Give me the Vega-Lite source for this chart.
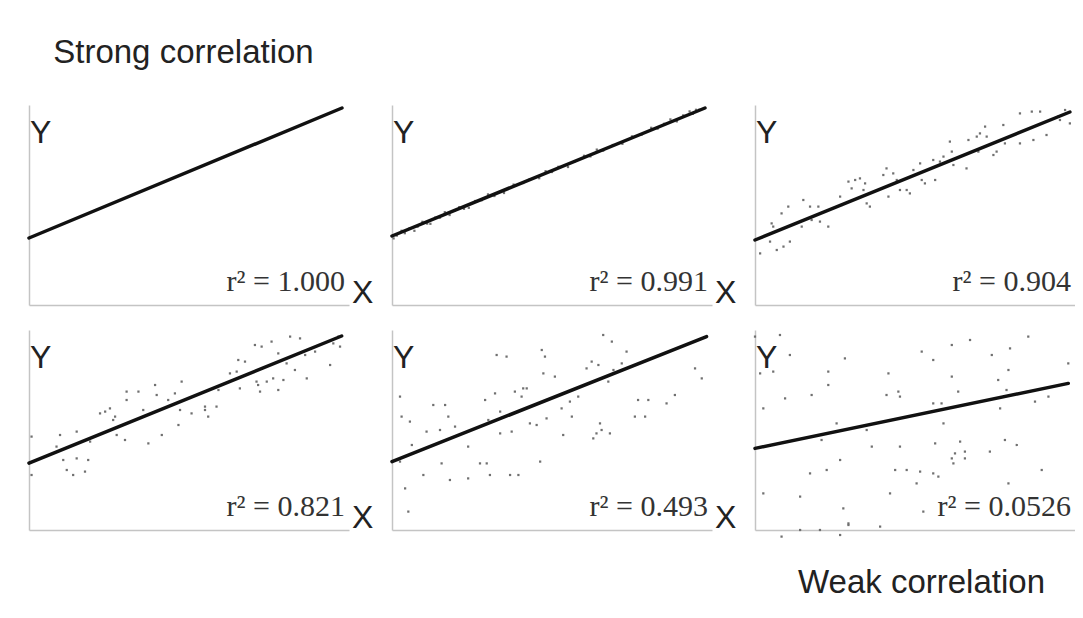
{
  "$schema": "https://vega.github.io/schema/vega-lite/v6.json",
  "padding": {"left": 27, "top": 37, "right": 0, "bottom": 0},
  "background": "white",
  "title": {"text": "Strong correlation", "anchor": "start", "font": "Liberation Sans", "fontSize": 33, "fontWeight": "normal", "color": "#222222", "dx": 26, "offset": 35},
  "config": {
    "view": {"stroke": null},
    "axis": {"domain": true, "domainColor": "#c4c4c4", "domainWidth": 1.5, "ticks": false, "labels": false, "grid": false, "title": null},
    "header": {"labels": false, "title": null, "labelPadding": 0, "titlePadding": 0},
    "headerFacet": {"labels": false, "title": null, "labelPadding": 0, "titlePadding": 0, "labelExpr": "''", "labelFontSize": 0}
  },
  "vconcat": [
    {
      "title": {"text": "Weak correlation", "orient": "bottom", "anchor": "end", "font": "Liberation Sans", "fontSize": 33, "fontWeight": "normal", "color": "#222222", "dx": -30, "offset": 29},
      "data": {"values": [
        {"panel": 1, "kind": "fit", "x": 0, "y": 33.5, "x2": 97.8, "y2": 98.5},
        {"panel": 2, "kind": "fit", "x": 0, "y": 34.5, "x2": 97.8, "y2": 98.5},
        {"panel": 3, "kind": "fit", "x": 0, "y": 32.5, "x2": 98.4, "y2": 96.5},
        {"panel": 4, "kind": "fit", "x": 0, "y": 33.4, "x2": 97.7, "y2": 97},
        {"panel": 5, "kind": "fit", "x": 0, "y": 34.2, "x2": 98.3, "y2": 96.7},
        {"panel": 6, "kind": "fit", "x": 0, "y": 40.8, "x2": 97.9, "y2": 73.3},
        {"panel": 1, "kind": "label", "r2": "r² = 1.000", "hasX": 1},
        {"panel": 2, "kind": "label", "r2": "r² = 0.991", "hasX": 1},
        {"panel": 3, "kind": "label", "r2": "r² = 0.904", "hasX": 0},
        {"panel": 4, "kind": "label", "r2": "r² = 0.821", "hasX": 1},
        {"panel": 5, "kind": "label", "r2": "r² = 0.493", "hasX": 1},
        {"panel": 6, "kind": "label", "r2": "r² = 0.0526", "hasX": 0},
        {"panel": 2, "kind": "pt", "x": 0.5, "y": 33.3},
        {"panel": 2, "kind": "pt", "x": 1.5, "y": 34.7},
        {"panel": 2, "kind": "pt", "x": 3, "y": 37.1},
        {"panel": 2, "kind": "pt", "x": 4, "y": 35.9},
        {"panel": 2, "kind": "pt", "x": 5.5, "y": 38.4},
        {"panel": 2, "kind": "pt", "x": 7, "y": 37.1},
        {"panel": 2, "kind": "pt", "x": 8, "y": 39.2},
        {"panel": 2, "kind": "pt", "x": 9.5, "y": 41.6},
        {"panel": 2, "kind": "pt", "x": 11, "y": 40.7},
        {"panel": 2, "kind": "pt", "x": 12, "y": 40.6},
        {"panel": 2, "kind": "pt", "x": 13.5, "y": 43.7},
        {"panel": 2, "kind": "pt", "x": 15, "y": 43.7},
        {"panel": 2, "kind": "pt", "x": 16.5, "y": 46.4},
        {"panel": 2, "kind": "pt", "x": 18, "y": 45.0},
        {"panel": 2, "kind": "pt", "x": 19.5, "y": 47.1},
        {"panel": 2, "kind": "pt", "x": 21, "y": 48.9},
        {"panel": 2, "kind": "pt", "x": 22.5, "y": 48.1},
        {"panel": 2, "kind": "pt", "x": 24, "y": 48.6},
        {"panel": 2, "kind": "pt", "x": 26, "y": 52.0},
        {"panel": 2, "kind": "pt", "x": 28, "y": 52.4},
        {"panel": 2, "kind": "pt", "x": 30, "y": 55.3},
        {"panel": 2, "kind": "pt", "x": 32, "y": 54.5},
        {"panel": 2, "kind": "pt", "x": 35, "y": 56.0},
        {"panel": 2, "kind": "pt", "x": 38, "y": 60.2},
        {"panel": 2, "kind": "pt", "x": 41, "y": 61.0},
        {"panel": 2, "kind": "pt", "x": 43, "y": 62.8},
        {"panel": 2, "kind": "pt", "x": 46, "y": 63.4},
        {"panel": 2, "kind": "pt", "x": 48, "y": 66.9},
        {"panel": 2, "kind": "pt", "x": 50, "y": 66.5},
        {"panel": 2, "kind": "pt", "x": 52, "y": 69.1},
        {"panel": 2, "kind": "pt", "x": 55, "y": 69.0},
        {"panel": 2, "kind": "pt", "x": 57, "y": 71.6},
        {"panel": 2, "kind": "pt", "x": 60, "y": 74.6},
        {"panel": 2, "kind": "pt", "x": 62, "y": 74.3},
        {"panel": 2, "kind": "pt", "x": 64, "y": 77.7},
        {"panel": 2, "kind": "pt", "x": 66, "y": 77.2},
        {"panel": 2, "kind": "pt", "x": 69, "y": 80.0},
        {"panel": 2, "kind": "pt", "x": 72, "y": 80.6},
        {"panel": 2, "kind": "pt", "x": 75, "y": 84.3},
        {"panel": 2, "kind": "pt", "x": 78, "y": 85.2},
        {"panel": 2, "kind": "pt", "x": 81, "y": 88.6},
        {"panel": 2, "kind": "pt", "x": 83, "y": 88.2},
        {"panel": 2, "kind": "pt", "x": 85, "y": 90.6},
        {"panel": 2, "kind": "pt", "x": 87, "y": 92.8},
        {"panel": 2, "kind": "pt", "x": 89, "y": 91.8},
        {"panel": 2, "kind": "pt", "x": 91, "y": 94.8},
        {"panel": 2, "kind": "pt", "x": 93, "y": 96.8},
        {"panel": 2, "kind": "pt", "x": 94, "y": 95.6},
        {"panel": 2, "kind": "pt", "x": 95, "y": 97.6},
        {"panel": 2, "kind": "pt", "x": 96, "y": 97.6},
        {"panel": 3, "kind": "pt", "x": 1.6, "y": 25.8},
        {"panel": 3, "kind": "pt", "x": 4.7, "y": 31.7},
        {"panel": 3, "kind": "pt", "x": 6.8, "y": 27.5},
        {"panel": 3, "kind": "pt", "x": 8.9, "y": 29.2},
        {"panel": 3, "kind": "pt", "x": 10.9, "y": 31.7},
        {"panel": 3, "kind": "pt", "x": 5.2, "y": 40.8},
        {"panel": 3, "kind": "pt", "x": 5.7, "y": 39.2},
        {"panel": 3, "kind": "pt", "x": 8.3, "y": 45.8},
        {"panel": 3, "kind": "pt", "x": 10.4, "y": 49.2},
        {"panel": 3, "kind": "pt", "x": 15.1, "y": 52.5},
        {"panel": 3, "kind": "pt", "x": 14.6, "y": 39.2},
        {"panel": 3, "kind": "pt", "x": 17.2, "y": 49.2},
        {"panel": 3, "kind": "pt", "x": 17.7, "y": 42.5},
        {"panel": 3, "kind": "pt", "x": 20.3, "y": 41.7},
        {"panel": 3, "kind": "pt", "x": 19.8, "y": 49.2},
        {"panel": 3, "kind": "pt", "x": 22.9, "y": 39.2},
        {"panel": 3, "kind": "pt", "x": 26.6, "y": 54.2},
        {"panel": 3, "kind": "pt", "x": 27.1, "y": 50},
        {"panel": 3, "kind": "pt", "x": 29.2, "y": 61.7},
        {"panel": 3, "kind": "pt", "x": 30.2, "y": 58.3},
        {"panel": 3, "kind": "pt", "x": 31.3, "y": 62.5},
        {"panel": 3, "kind": "pt", "x": 32.8, "y": 63.3},
        {"panel": 3, "kind": "pt", "x": 33.9, "y": 57.5},
        {"panel": 3, "kind": "pt", "x": 34.4, "y": 60.8},
        {"panel": 3, "kind": "pt", "x": 34.9, "y": 50.8},
        {"panel": 3, "kind": "pt", "x": 35.9, "y": 49.2},
        {"panel": 3, "kind": "pt", "x": 41.1, "y": 68.3},
        {"panel": 3, "kind": "pt", "x": 43.2, "y": 65.8},
        {"panel": 3, "kind": "pt", "x": 41.7, "y": 54.2},
        {"panel": 3, "kind": "pt", "x": 45.3, "y": 57.5},
        {"panel": 3, "kind": "pt", "x": 48.4, "y": 55.8},
        {"panel": 3, "kind": "pt", "x": 49.5, "y": 67.5},
        {"panel": 3, "kind": "pt", "x": 51.6, "y": 70.8},
        {"panel": 3, "kind": "pt", "x": 52.1, "y": 62.5},
        {"panel": 3, "kind": "pt", "x": 53.1, "y": 60.8},
        {"panel": 3, "kind": "pt", "x": 56.3, "y": 62.5},
        {"panel": 3, "kind": "pt", "x": 55.7, "y": 72.5},
        {"panel": 3, "kind": "pt", "x": 58.9, "y": 74.2},
        {"panel": 3, "kind": "pt", "x": 60.9, "y": 81.7},
        {"panel": 3, "kind": "pt", "x": 61.5, "y": 76.7},
        {"panel": 3, "kind": "pt", "x": 62, "y": 70},
        {"panel": 3, "kind": "pt", "x": 66.1, "y": 68.3},
        {"panel": 3, "kind": "pt", "x": 66.7, "y": 82.5},
        {"panel": 3, "kind": "pt", "x": 69.3, "y": 84.2},
        {"panel": 3, "kind": "pt", "x": 70.3, "y": 85.8},
        {"panel": 3, "kind": "pt", "x": 71.9, "y": 89.2},
        {"panel": 3, "kind": "pt", "x": 72.4, "y": 84.2},
        {"panel": 3, "kind": "pt", "x": 74.5, "y": 75},
        {"panel": 3, "kind": "pt", "x": 75.5, "y": 76.7},
        {"panel": 3, "kind": "pt", "x": 77.6, "y": 90},
        {"panel": 3, "kind": "pt", "x": 78.1, "y": 80.8},
        {"panel": 3, "kind": "pt", "x": 82.8, "y": 95.8},
        {"panel": 3, "kind": "pt", "x": 82.8, "y": 80.8},
        {"panel": 3, "kind": "pt", "x": 86.5, "y": 96.7},
        {"panel": 3, "kind": "pt", "x": 87, "y": 82.5},
        {"panel": 3, "kind": "pt", "x": 89.1, "y": 96.7},
        {"panel": 3, "kind": "pt", "x": 91.1, "y": 85},
        {"panel": 3, "kind": "pt", "x": 94.8, "y": 94.2},
        {"panel": 3, "kind": "pt", "x": 95.3, "y": 92.5},
        {"panel": 3, "kind": "pt", "x": 98.4, "y": 90.8},
        {"panel": 3, "kind": "pt", "x": 96.9, "y": 97.5},
        {"panel": 3, "kind": "pt", "x": 69.8, "y": 76.7},
        {"panel": 3, "kind": "pt", "x": 47.4, "y": 57.5},
        {"panel": 3, "kind": "pt", "x": 40.1, "y": 65},
        {"panel": 3, "kind": "pt", "x": 44.3, "y": 62.5},
        {"panel": 3, "kind": "pt", "x": 57.8, "y": 71.7},
        {"panel": 4, "kind": "pt", "x": 0.8, "y": 46.7},
        {"panel": 4, "kind": "pt", "x": 0.8, "y": 27.5},
        {"panel": 4, "kind": "pt", "x": 8.6, "y": 41.7},
        {"panel": 4, "kind": "pt", "x": 9.7, "y": 47.5},
        {"panel": 4, "kind": "pt", "x": 10.7, "y": 35},
        {"panel": 4, "kind": "pt", "x": 11.8, "y": 30},
        {"panel": 4, "kind": "pt", "x": 13.8, "y": 27.5},
        {"panel": 4, "kind": "pt", "x": 14.9, "y": 49.2},
        {"panel": 4, "kind": "pt", "x": 14.9, "y": 35.8},
        {"panel": 4, "kind": "pt", "x": 17.5, "y": 29.2},
        {"panel": 4, "kind": "pt", "x": 18.5, "y": 35},
        {"panel": 4, "kind": "pt", "x": 19.1, "y": 44.2},
        {"panel": 4, "kind": "pt", "x": 22.2, "y": 58.3},
        {"panel": 4, "kind": "pt", "x": 23.8, "y": 59.2},
        {"panel": 4, "kind": "pt", "x": 25.3, "y": 60.8},
        {"panel": 4, "kind": "pt", "x": 26.3, "y": 55},
        {"panel": 4, "kind": "pt", "x": 26.9, "y": 56.7},
        {"panel": 4, "kind": "pt", "x": 27.4, "y": 47.5},
        {"panel": 4, "kind": "pt", "x": 30, "y": 45},
        {"panel": 4, "kind": "pt", "x": 30.5, "y": 69.2},
        {"panel": 4, "kind": "pt", "x": 30.5, "y": 65},
        {"panel": 4, "kind": "pt", "x": 34.2, "y": 69.2},
        {"panel": 4, "kind": "pt", "x": 35.7, "y": 60},
        {"panel": 4, "kind": "pt", "x": 37.3, "y": 43.3},
        {"panel": 4, "kind": "pt", "x": 39.4, "y": 72.5},
        {"panel": 4, "kind": "pt", "x": 39.9, "y": 67.5},
        {"panel": 4, "kind": "pt", "x": 41.5, "y": 47.5},
        {"panel": 4, "kind": "pt", "x": 43.5, "y": 65},
        {"panel": 4, "kind": "pt", "x": 45.6, "y": 68.3},
        {"panel": 4, "kind": "pt", "x": 46.7, "y": 52.5},
        {"panel": 4, "kind": "pt", "x": 47.2, "y": 60},
        {"panel": 4, "kind": "pt", "x": 47.7, "y": 74.2},
        {"panel": 4, "kind": "pt", "x": 50.8, "y": 58.3},
        {"panel": 4, "kind": "pt", "x": 55, "y": 60},
        {"panel": 4, "kind": "pt", "x": 56, "y": 56.7},
        {"panel": 4, "kind": "pt", "x": 58.6, "y": 61.7},
        {"panel": 4, "kind": "pt", "x": 59.2, "y": 70},
        {"panel": 4, "kind": "pt", "x": 62.8, "y": 78.3},
        {"panel": 4, "kind": "pt", "x": 64.9, "y": 79.2},
        {"panel": 4, "kind": "pt", "x": 65.4, "y": 85},
        {"panel": 4, "kind": "pt", "x": 65.9, "y": 70.8},
        {"panel": 4, "kind": "pt", "x": 67.5, "y": 84.2},
        {"panel": 4, "kind": "pt", "x": 70.6, "y": 92.5},
        {"panel": 4, "kind": "pt", "x": 71.1, "y": 74.2},
        {"panel": 4, "kind": "pt", "x": 72.2, "y": 69.2},
        {"panel": 4, "kind": "pt", "x": 72.7, "y": 91.7},
        {"panel": 4, "kind": "pt", "x": 74.3, "y": 74.2},
        {"panel": 4, "kind": "pt", "x": 75.8, "y": 94.2},
        {"panel": 4, "kind": "pt", "x": 76.3, "y": 75.8},
        {"panel": 4, "kind": "pt", "x": 77.9, "y": 70},
        {"panel": 4, "kind": "pt", "x": 77.9, "y": 88.3},
        {"panel": 4, "kind": "pt", "x": 79.5, "y": 75},
        {"panel": 4, "kind": "pt", "x": 80.5, "y": 83.3},
        {"panel": 4, "kind": "pt", "x": 81.6, "y": 96.7},
        {"panel": 4, "kind": "pt", "x": 83.1, "y": 80},
        {"panel": 4, "kind": "pt", "x": 84.7, "y": 95.8},
        {"panel": 4, "kind": "pt", "x": 86.3, "y": 87.5},
        {"panel": 4, "kind": "pt", "x": 86.8, "y": 75.8},
        {"panel": 4, "kind": "pt", "x": 89.4, "y": 89.2},
        {"panel": 4, "kind": "pt", "x": 94.1, "y": 82.5},
        {"panel": 4, "kind": "pt", "x": 95.1, "y": 93.3},
        {"panel": 4, "kind": "pt", "x": 96.7, "y": 96.7},
        {"panel": 4, "kind": "pt", "x": 97.2, "y": 91.7},
        {"panel": 4, "kind": "pt", "x": 55, "y": 61.7},
        {"panel": 4, "kind": "pt", "x": 71.6, "y": 72.5},
        {"panel": 5, "kind": "pt", "x": 2.5, "y": 66.7},
        {"panel": 5, "kind": "pt", "x": 3.0, "y": 56.7},
        {"panel": 5, "kind": "pt", "x": 5.6, "y": 54.2},
        {"panel": 5, "kind": "pt", "x": 2.5, "y": 34.2},
        {"panel": 5, "kind": "pt", "x": 6.2, "y": 42.5},
        {"panel": 5, "kind": "pt", "x": 4.1, "y": 20.8},
        {"panel": 5, "kind": "pt", "x": 5.1, "y": 9.2},
        {"panel": 5, "kind": "pt", "x": 9.8, "y": 27.5},
        {"panel": 5, "kind": "pt", "x": 10.8, "y": 49.2},
        {"panel": 5, "kind": "pt", "x": 12.9, "y": 62.5},
        {"panel": 5, "kind": "pt", "x": 15, "y": 50},
        {"panel": 5, "kind": "pt", "x": 15.5, "y": 33.3},
        {"panel": 5, "kind": "pt", "x": 16.6, "y": 62.5},
        {"panel": 5, "kind": "pt", "x": 17.6, "y": 56.7},
        {"panel": 5, "kind": "pt", "x": 18.1, "y": 25},
        {"panel": 5, "kind": "pt", "x": 19.7, "y": 51.7},
        {"panel": 5, "kind": "pt", "x": 23.8, "y": 41.7},
        {"panel": 5, "kind": "pt", "x": 23.8, "y": 25.8},
        {"panel": 5, "kind": "pt", "x": 27.5, "y": 33.3},
        {"panel": 5, "kind": "pt", "x": 29.1, "y": 65},
        {"panel": 5, "kind": "pt", "x": 29.6, "y": 33.3},
        {"panel": 5, "kind": "pt", "x": 30.1, "y": 55},
        {"panel": 5, "kind": "pt", "x": 30.6, "y": 27.5},
        {"panel": 5, "kind": "pt", "x": 32.2, "y": 68.3},
        {"panel": 5, "kind": "pt", "x": 32.7, "y": 87.5},
        {"panel": 5, "kind": "pt", "x": 33.8, "y": 59.2},
        {"panel": 5, "kind": "pt", "x": 33.8, "y": 48.3},
        {"panel": 5, "kind": "pt", "x": 35.8, "y": 86.7},
        {"panel": 5, "kind": "pt", "x": 37.4, "y": 49.2},
        {"panel": 5, "kind": "pt", "x": 36.9, "y": 27.5},
        {"panel": 5, "kind": "pt", "x": 38.4, "y": 69.2},
        {"panel": 5, "kind": "pt", "x": 39.5, "y": 27.5},
        {"panel": 5, "kind": "pt", "x": 40.5, "y": 66.7},
        {"panel": 5, "kind": "pt", "x": 41, "y": 70.8},
        {"panel": 5, "kind": "pt", "x": 42.1, "y": 70.8},
        {"panel": 5, "kind": "pt", "x": 43.1, "y": 53.3},
        {"panel": 5, "kind": "pt", "x": 45.2, "y": 52.5},
        {"panel": 5, "kind": "pt", "x": 46.3, "y": 34.2},
        {"panel": 5, "kind": "pt", "x": 46.8, "y": 90},
        {"panel": 5, "kind": "pt", "x": 47.3, "y": 78.3},
        {"panel": 5, "kind": "pt", "x": 47.8, "y": 86.7},
        {"panel": 5, "kind": "pt", "x": 48.3, "y": 55.8},
        {"panel": 5, "kind": "pt", "x": 50.9, "y": 76.7},
        {"panel": 5, "kind": "pt", "x": 53, "y": 60.8},
        {"panel": 5, "kind": "pt", "x": 53.5, "y": 47.5},
        {"panel": 5, "kind": "pt", "x": 55.6, "y": 64.2},
        {"panel": 5, "kind": "pt", "x": 56.2, "y": 56.7},
        {"panel": 5, "kind": "pt", "x": 58.2, "y": 66.7},
        {"panel": 5, "kind": "pt", "x": 60.8, "y": 80.8},
        {"panel": 5, "kind": "pt", "x": 62.4, "y": 84.2},
        {"panel": 5, "kind": "pt", "x": 62.9, "y": 45.8},
        {"panel": 5, "kind": "pt", "x": 63.9, "y": 48.3},
        {"panel": 5, "kind": "pt", "x": 64.5, "y": 82.5},
        {"panel": 5, "kind": "pt", "x": 65, "y": 53.3},
        {"panel": 5, "kind": "pt", "x": 65.5, "y": 50},
        {"panel": 5, "kind": "pt", "x": 66, "y": 97.5},
        {"panel": 5, "kind": "pt", "x": 67.6, "y": 74.2},
        {"panel": 5, "kind": "pt", "x": 68.1, "y": 48.3},
        {"panel": 5, "kind": "pt", "x": 68.7, "y": 94.2},
        {"panel": 5, "kind": "pt", "x": 69.2, "y": 80},
        {"panel": 5, "kind": "pt", "x": 71.8, "y": 83.3},
        {"panel": 5, "kind": "pt", "x": 73.3, "y": 89.2},
        {"panel": 5, "kind": "pt", "x": 75.9, "y": 56.7},
        {"panel": 5, "kind": "pt", "x": 76.9, "y": 65},
        {"panel": 5, "kind": "pt", "x": 79.1, "y": 56.7},
        {"panel": 5, "kind": "pt", "x": 80.1, "y": 65},
        {"panel": 5, "kind": "pt", "x": 85.8, "y": 63.3},
        {"panel": 5, "kind": "pt", "x": 88.4, "y": 67.5},
        {"panel": 5, "kind": "pt", "x": 94.7, "y": 80.8},
        {"panel": 5, "kind": "pt", "x": 96.8, "y": 75.8},
        {"panel": 6, "kind": "pt", "x": 0, "y": 96.7},
        {"panel": 6, "kind": "pt", "x": 1.6, "y": 78.3},
        {"panel": 6, "kind": "pt", "x": 2.6, "y": 60.8},
        {"panel": 6, "kind": "pt", "x": 2.6, "y": 18.3},
        {"panel": 6, "kind": "pt", "x": 5.7, "y": 79.2},
        {"panel": 6, "kind": "pt", "x": 7.8, "y": 97.5},
        {"panel": 6, "kind": "pt", "x": 9.4, "y": 65.8},
        {"panel": 6, "kind": "pt", "x": 10.9, "y": 87.5},
        {"panel": 6, "kind": "pt", "x": 14.1, "y": 16.7},
        {"panel": 6, "kind": "pt", "x": 17.2, "y": 28.3},
        {"panel": 6, "kind": "pt", "x": 17.7, "y": 67.5},
        {"panel": 6, "kind": "pt", "x": 20.8, "y": 45},
        {"panel": 6, "kind": "pt", "x": 22.4, "y": 30},
        {"panel": 6, "kind": "pt", "x": 22.9, "y": 79.2},
        {"panel": 6, "kind": "pt", "x": 22.9, "y": 72.5},
        {"panel": 6, "kind": "pt", "x": 25.5, "y": 53.3},
        {"panel": 6, "kind": "pt", "x": 26.6, "y": 35},
        {"panel": 6, "kind": "pt", "x": 27.6, "y": 10.8},
        {"panel": 6, "kind": "pt", "x": 28.1, "y": 85.8},
        {"panel": 6, "kind": "pt", "x": 29.2, "y": 3.3},
        {"panel": 6, "kind": "pt", "x": 34.9, "y": 50},
        {"panel": 6, "kind": "pt", "x": 36.5, "y": 41.7},
        {"panel": 6, "kind": "pt", "x": 39.1, "y": 1.7},
        {"panel": 6, "kind": "pt", "x": 41.1, "y": 67.5},
        {"panel": 6, "kind": "pt", "x": 41.7, "y": 78.3},
        {"panel": 6, "kind": "pt", "x": 42.2, "y": 18.3},
        {"panel": 6, "kind": "pt", "x": 43.8, "y": 30},
        {"panel": 6, "kind": "pt", "x": 44.8, "y": 69.2},
        {"panel": 6, "kind": "pt", "x": 45.3, "y": 66.7},
        {"panel": 6, "kind": "pt", "x": 45.3, "y": 41.7},
        {"panel": 6, "kind": "pt", "x": 47.4, "y": 30},
        {"panel": 6, "kind": "pt", "x": 50.5, "y": 23.3},
        {"panel": 6, "kind": "pt", "x": 51.6, "y": 29.2},
        {"panel": 6, "kind": "pt", "x": 52.1, "y": 89.2},
        {"panel": 6, "kind": "pt", "x": 52.6, "y": 9.2},
        {"panel": 6, "kind": "pt", "x": 55.7, "y": 28.3},
        {"panel": 6, "kind": "pt", "x": 55.7, "y": 85},
        {"panel": 6, "kind": "pt", "x": 55.7, "y": 63.3},
        {"panel": 6, "kind": "pt", "x": 56.3, "y": 43.3},
        {"panel": 6, "kind": "pt", "x": 57.3, "y": 26.7},
        {"panel": 6, "kind": "pt", "x": 58.3, "y": 63.3},
        {"panel": 6, "kind": "pt", "x": 58.9, "y": 53.3},
        {"panel": 6, "kind": "pt", "x": 61.5, "y": 92.5},
        {"panel": 6, "kind": "pt", "x": 61.5, "y": 76.7},
        {"panel": 6, "kind": "pt", "x": 61.5, "y": 35.8},
        {"panel": 6, "kind": "pt", "x": 62, "y": 33.3},
        {"panel": 6, "kind": "pt", "x": 62.5, "y": 38.3},
        {"panel": 6, "kind": "pt", "x": 63.5, "y": 69.2},
        {"panel": 6, "kind": "pt", "x": 64.1, "y": 44.2},
        {"panel": 6, "kind": "pt", "x": 65.6, "y": 39.2},
        {"panel": 6, "kind": "pt", "x": 65.6, "y": 35.8},
        {"panel": 6, "kind": "pt", "x": 67.2, "y": 95},
        {"panel": 6, "kind": "pt", "x": 73.4, "y": 39.2},
        {"panel": 6, "kind": "pt", "x": 74, "y": 87.5},
        {"panel": 6, "kind": "pt", "x": 76, "y": 75},
        {"panel": 6, "kind": "pt", "x": 76.6, "y": 60.8},
        {"panel": 6, "kind": "pt", "x": 78.1, "y": 45},
        {"panel": 6, "kind": "pt", "x": 78.6, "y": 70},
        {"panel": 6, "kind": "pt", "x": 79.2, "y": 23.3},
        {"panel": 6, "kind": "pt", "x": 79.2, "y": 80},
        {"panel": 6, "kind": "pt", "x": 79.7, "y": 90.8},
        {"panel": 6, "kind": "pt", "x": 81.8, "y": 42.5},
        {"panel": 6, "kind": "pt", "x": 85.4, "y": 96.7},
        {"panel": 6, "kind": "pt", "x": 87.5, "y": 64.2},
        {"panel": 6, "kind": "pt", "x": 89.6, "y": 30},
        {"panel": 6, "kind": "pt", "x": 91.7, "y": 66.7},
        {"panel": 6, "kind": "pt", "x": 97.9, "y": 83.3},
        {"panel": 6, "kind": "pt", "x": 8.3, "y": -3.3},
        {"panel": 6, "kind": "pt", "x": 14.1, "y": 0},
        {"panel": 6, "kind": "pt", "x": 20.3, "y": 0},
        {"panel": 6, "kind": "pt", "x": 26.6, "y": -2.5},
        {"panel": 6, "kind": "pt", "x": 29.2, "y": 2.5}
      ]},
      "facet": {"field": "panel", "type": "ordinal", "header": {"labels": false, "title": null, "labelPadding": 0, "titlePadding": 0, "labelExpr": "''", "labelFontSize": 0}},
      "columns": 3,
      "bounds": "flush",
      "spacing": {"row": 25, "column": 43},
      "resolve": {"axis": {"x": "independent", "y": "independent"}},
      "spec": {
        "width": 320,
        "height": 200,
        "layer": [
          {
            "transform": [{"filter": "datum.kind === 'pt'"}],
            "mark": {"type": "square", "size": 5, "color": "#707070", "opacity": 1},
            "encoding": {
              "x": {"field": "x", "type": "quantitative", "scale": {"domain": [0, 100], "nice": false, "zero": false}},
              "y": {"field": "y", "type": "quantitative", "scale": {"domain": [0, 100], "nice": false, "zero": false}}
            }
          },
          {
            "transform": [{"filter": "datum.kind === 'fit'"}],
            "mark": {"type": "rule", "color": "#111111", "strokeWidth": 3.5, "strokeCap": "round"},
            "encoding": {
              "x": {"field": "x", "type": "quantitative", "scale": {"domain": [0, 100], "nice": false, "zero": false}},
              "y": {"field": "y", "type": "quantitative", "scale": {"domain": [0, 100], "nice": false, "zero": false}},
              "x2": {"field": "x2"},
              "y2": {"field": "y2"}
            }
          },
          {
            "transform": [{"filter": "datum.kind === 'label'"}],
            "mark": {"type": "text", "text": "Y", "align": "left", "baseline": "alphabetic", "dx": 1, "dy": 38, "font": "Liberation Sans", "fontSize": 32, "color": "#222222"},
            "encoding": {
              "x": {"datum": 0, "type": "quantitative", "scale": {"domain": [0, 100], "nice": false, "zero": false}},
              "y": {"datum": 100, "type": "quantitative", "scale": {"domain": [0, 100], "nice": false, "zero": false}}
            }
          },
          {
            "transform": [{"filter": "datum.kind === 'label' && datum.hasX === 1"}],
            "mark": {"type": "text", "text": "X", "align": "left", "baseline": "alphabetic", "dx": 3, "dy": -2, "font": "Liberation Sans", "fontSize": 32, "color": "#222222"},
            "encoding": {
              "x": {"datum": 100, "type": "quantitative", "scale": {"domain": [0, 100], "nice": false, "zero": false}},
              "y": {"datum": 0, "type": "quantitative", "scale": {"domain": [0, 100], "nice": false, "zero": false}}
            }
          },
          {
            "transform": [{"filter": "datum.kind === 'label'"}],
            "mark": {"type": "text", "align": "right", "baseline": "alphabetic", "dx": -4, "dy": -14, "font": "Liberation Serif", "fontSize": 30, "color": "#333333"},
            "encoding": {
              "text": {"field": "r2"},
              "x": {"datum": 100, "type": "quantitative", "scale": {"domain": [0, 100], "nice": false, "zero": false}},
              "y": {"datum": 0, "type": "quantitative", "scale": {"domain": [0, 100], "nice": false, "zero": false}}
            }
          }
        ]
      }
    }
  ]
}
